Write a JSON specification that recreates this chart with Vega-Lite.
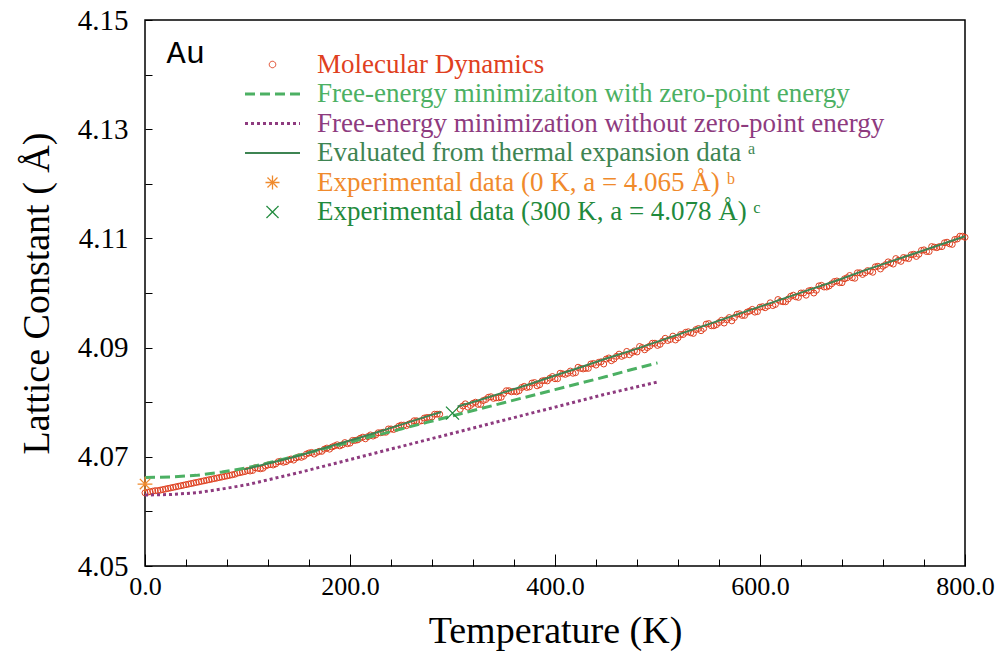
{
  "$schema": "https://vega.github.io/schema/vega-lite/v6.json",
  "width": 820,
  "height": 546,
  "autosize": "none",
  "padding": {"left": 145, "top": 20, "right": 40, "bottom": 88},
  "background": "white",
  "config": {"view": {"stroke": "black", "strokeWidth": 1.5}, "font": "Liberation Serif"},
  "datasets": {
    "md": [
      {"T":0,"a":4.0634},{"T":5,"a":4.0636},{"T":10,"a":4.0638},{"T":15,"a":4.0639},{"T":20,"a":4.0641},{"T":25,"a":4.0643},{"T":30,"a":4.0645},{"T":35,"a":4.0647},{"T":40,"a":4.0649},{"T":45,"a":4.0651},{"T":50,"a":4.0653},{"T":55,"a":4.0655},{"T":60,"a":4.0657},{"T":65,"a":4.0659},{"T":70,"a":4.0661},{"T":75,"a":4.0663},{"T":80,"a":4.0665},{"T":85,"a":4.0667},{"T":90,"a":4.0670},{"T":95,"a":4.0672},
      {"T":2.5,"a":4.0635},{"T":7.5,"a":4.0637},{"T":12.5,"a":4.0638},{"T":17.5,"a":4.0640},{"T":22.5,"a":4.0642},{"T":27.5,"a":4.0644},{"T":32.5,"a":4.0646},{"T":37.5,"a":4.0648},{"T":42.5,"a":4.0650},{"T":47.5,"a":4.0652},{"T":52.5,"a":4.0654},{"T":57.5,"a":4.0656},{"T":62.5,"a":4.0658},{"T":67.5,"a":4.0660},{"T":72.5,"a":4.0662},{"T":77.5,"a":4.0664},{"T":82.5,"a":4.0666},{"T":87.5,"a":4.0668},{"T":92.5,"a":4.0671},{"T":97.5,"a":4.0673},
      {"T":100,"a":4.0675},{"T":105,"a":4.0675},{"T":110,"a":4.0679},{"T":115,"a":4.0679},{"T":120,"a":4.0685},{"T":125,"a":4.0685},{"T":130,"a":4.0691},{"T":135,"a":4.0690},{"T":140,"a":4.0694},{"T":145,"a":4.0694},{"T":150,"a":4.0700},{"T":155,"a":4.0701},{"T":160,"a":4.0707},{"T":165,"a":4.0705},{"T":170,"a":4.0710},{"T":175,"a":4.0714},{"T":180,"a":4.0714},{"T":185,"a":4.0720},{"T":190,"a":4.0720},{"T":195,"a":4.0726},{"T":200,"a":4.0725},{"T":205,"a":4.0730},{"T":210,"a":4.0734},{"T":215,"a":4.0733},{"T":220,"a":4.0740},{"T":225,"a":4.0740},{"T":230,"a":4.0744},{"T":235,"a":4.0745},{"T":240,"a":4.0751},{"T":245,"a":4.0752},{"T":250,"a":4.0758},{"T":255,"a":4.0757},{"T":260,"a":4.0762},{"T":265,"a":4.0766},{"T":270,"a":4.0766},{"T":275,"a":4.0772},{"T":280,"a":4.0773},{"T":285,"a":4.0778},
      {"T":102.5,"a":4.0674},{"T":107.5,"a":4.0680},{"T":112.5,"a":4.0678},{"T":117.5,"a":4.0683},{"T":122.5,"a":4.0686},{"T":127.5,"a":4.0687},{"T":132.5,"a":4.0692},{"T":137.5,"a":4.0691},{"T":142.5,"a":4.0696},{"T":147.5,"a":4.0698},{"T":152.5,"a":4.0699},{"T":157.5,"a":4.0705},{"T":162.5,"a":4.0708},{"T":167.5,"a":4.0708},{"T":172.5,"a":4.0710},{"T":177.5,"a":4.0716},{"T":182.5,"a":4.0718},{"T":187.5,"a":4.0722},{"T":192.5,"a":4.0722},{"T":197.5,"a":4.0724},{"T":202.5,"a":4.0730},{"T":207.5,"a":4.0731},{"T":212.5,"a":4.0736},{"T":217.5,"a":4.0737},{"T":222.5,"a":4.0738},{"T":227.5,"a":4.0744},{"T":232.5,"a":4.0745},{"T":237.5,"a":4.0751},{"T":242.5,"a":4.0750},{"T":247.5,"a":4.0756},{"T":252.5,"a":4.0758},{"T":257.5,"a":4.0760},{"T":262.5,"a":4.0766},{"T":267.5,"a":4.0765},{"T":272.5,"a":4.0771},{"T":277.5,"a":4.0772},{"T":282.5,"a":4.0778},{"T":287.5,"a":4.0778},
      {"T":310,"a":4.0793},{"T":315,"a":4.0791},{"T":320,"a":4.0798},{"T":325,"a":4.0796},{"T":330,"a":4.0803},{"T":335,"a":4.0809},{"T":340,"a":4.0807},{"T":345,"a":4.0808},{"T":350,"a":4.0816},{"T":355,"a":4.0821},{"T":360,"a":4.0820},{"T":365,"a":4.0821},{"T":370,"a":4.0829},{"T":375,"a":4.0828},{"T":380,"a":4.0836},{"T":385,"a":4.0832},{"T":390,"a":4.0840},{"T":395,"a":4.0844},{"T":400,"a":4.0843},{"T":405,"a":4.0853},{"T":410,"a":4.0851},{"T":415,"a":4.0857},{"T":420,"a":4.0854},{"T":425,"a":4.0862},{"T":430,"a":4.0862},{"T":435,"a":4.0870},{"T":440,"a":4.0868},{"T":445,"a":4.0874},{"T":450,"a":4.0879},{"T":455,"a":4.0876},{"T":460,"a":4.0884},{"T":465,"a":4.0884},{"T":470,"a":4.0893},{"T":475,"a":4.0891},{"T":480,"a":4.0892},{"T":485,"a":4.0900},{"T":490,"a":4.0900},{"T":495,"a":4.0908},{"T":500,"a":4.0904},{"T":505,"a":4.0912},{"T":510,"a":4.0913},{"T":515,"a":4.0921},{"T":520,"a":4.0918},{"T":525,"a":4.0924},{"T":530,"a":4.0929},{"T":535,"a":4.0926},{"T":540,"a":4.0935},{"T":545,"a":4.0935},{"T":550,"a":4.0944},{"T":555,"a":4.0940},{"T":560,"a":4.0946},{"T":565,"a":4.0945},{"T":570,"a":4.0955},{"T":575,"a":4.0955},{"T":580,"a":4.0962},{"T":585,"a":4.0959},{"T":590,"a":4.0967},{"T":595,"a":4.0965},{"T":600,"a":4.0974},{"T":605,"a":4.0973},{"T":610,"a":4.0982},{"T":615,"a":4.0979},{"T":620,"a":4.0985},{"T":625,"a":4.0984},{"T":630,"a":4.0994},{"T":635,"a":4.0993},{"T":640,"a":4.1000},{"T":645,"a":4.0996},{"T":650,"a":4.1005},{"T":655,"a":4.1005},{"T":660,"a":4.1014},{"T":665,"a":4.1011},{"T":670,"a":4.1017},{"T":675,"a":4.1022},{"T":680,"a":4.1019},{"T":685,"a":4.1028},{"T":690,"a":4.1028},{"T":695,"a":4.1037},{"T":700,"a":4.1034},{"T":705,"a":4.1041},{"T":710,"a":4.1038},{"T":715,"a":4.1049},{"T":720,"a":4.1049},{"T":725,"a":4.1057},{"T":730,"a":4.1053},{"T":735,"a":4.1060},{"T":740,"a":4.1065},{"T":745,"a":4.1063},{"T":750,"a":4.1071},{"T":755,"a":4.1071},{"T":760,"a":4.1079},{"T":765,"a":4.1076},{"T":770,"a":4.1084},{"T":775,"a":4.1085},{"T":780,"a":4.1092},{"T":785,"a":4.1090},{"T":790,"a":4.1098},{"T":795,"a":4.1104},{"T":800,"a":4.1102},
      {"T":307.5,"a":4.0787},{"T":312.5,"a":4.0797},{"T":317.5,"a":4.0794},{"T":322.5,"a":4.0800},{"T":327.5,"a":4.0796},{"T":332.5,"a":4.0805},{"T":337.5,"a":4.0810},{"T":342.5,"a":4.0808},{"T":347.5,"a":4.0809},{"T":352.5,"a":4.0821},{"T":357.5,"a":4.0819},{"T":362.5,"a":4.0819},{"T":367.5,"a":4.0827},{"T":372.5,"a":4.0827},{"T":377.5,"a":4.0835},{"T":382.5,"a":4.0830},{"T":387.5,"a":4.0839},{"T":392.5,"a":4.0839},{"T":397.5,"a":4.0847},{"T":402.5,"a":4.0843},{"T":407.5,"a":4.0852},{"T":412.5,"a":4.0853},{"T":417.5,"a":4.0853},{"T":422.5,"a":4.0864},{"T":427.5,"a":4.0861},{"T":432.5,"a":4.0862},{"T":437.5,"a":4.0871},{"T":442.5,"a":4.0873},{"T":447.5,"a":4.0870},{"T":452.5,"a":4.0881},{"T":457.5,"a":4.0879},{"T":462.5,"a":4.0888},{"T":467.5,"a":4.0886},{"T":472.5,"a":4.0887},{"T":477.5,"a":4.0894},{"T":482.5,"a":4.0902},{"T":487.5,"a":4.0896},{"T":492.5,"a":4.0903},{"T":497.5,"a":4.0908},{"T":502.5,"a":4.0906},{"T":507.5,"a":4.0917},{"T":512.5,"a":4.0915},{"T":517.5,"a":4.0914},{"T":522.5,"a":4.0924},{"T":527.5,"a":4.0928},{"T":532.5,"a":4.0927},{"T":537.5,"a":4.0933},{"T":542.5,"a":4.0931},{"T":547.5,"a":4.0943},{"T":552.5,"a":4.0940},{"T":557.5,"a":4.0942},{"T":562.5,"a":4.0950},{"T":567.5,"a":4.0951},{"T":572.5,"a":4.0949},{"T":577.5,"a":4.0961},{"T":582.5,"a":4.0959},{"T":587.5,"a":4.0965},{"T":592.5,"a":4.0970},{"T":597.5,"a":4.0966},{"T":602.5,"a":4.0975},{"T":607.5,"a":4.0976},{"T":612.5,"a":4.0977},{"T":617.5,"a":4.0988},{"T":622.5,"a":4.0984},{"T":627.5,"a":4.0989},{"T":632.5,"a":4.0996},{"T":637.5,"a":4.0992},{"T":642.5,"a":4.1000},{"T":647.5,"a":4.1004},{"T":652.5,"a":4.1000},{"T":657.5,"a":4.1013},{"T":662.5,"a":4.1011},{"T":667.5,"a":4.1013},{"T":672.5,"a":4.1021},{"T":677.5,"a":4.1019},{"T":682.5,"a":4.1026},{"T":687.5,"a":4.1032},{"T":692.5,"a":4.1027},{"T":697.5,"a":4.1037},{"T":702.5,"a":4.1037},{"T":707.5,"a":4.1040},{"T":712.5,"a":4.1048},{"T":717.5,"a":4.1044},{"T":722.5,"a":4.1052},{"T":727.5,"a":4.1055},{"T":732.5,"a":4.1063},{"T":737.5,"a":4.1058},{"T":742.5,"a":4.1064},{"T":747.5,"a":4.1070},{"T":752.5,"a":4.1067},{"T":757.5,"a":4.1078},{"T":762.5,"a":4.1076},{"T":767.5,"a":4.1085},{"T":772.5,"a":4.1083},{"T":777.5,"a":4.1085},{"T":782.5,"a":4.1093},{"T":787.5,"a":4.1089},{"T":792.5,"a":4.1099},{"T":797.5,"a":4.1104}
    ],
    "zpe": [
      {"T":0,"a":4.0662},{"T":25,"a":4.0663},{"T":50,"a":4.0666},{"T":75,"a":4.0672},{"T":100,"a":4.0680},{"T":125,"a":4.0691},{"T":150,"a":4.0703},{"T":175,"a":4.0715},{"T":200,"a":4.0727},{"T":225,"a":4.0739},{"T":250,"a":4.0751},{"T":275,"a":4.0763},{"T":300,"a":4.0775},{"T":325,"a":4.0787},{"T":350,"a":4.0799},{"T":375,"a":4.0811},{"T":400,"a":4.0823},{"T":425,"a":4.0835},{"T":450,"a":4.0847},{"T":475,"a":4.0860},{"T":500,"a":4.0872}
    ],
    "nozpe": [
      {"T":0,"a":4.0630},{"T":25,"a":4.0631},{"T":50,"a":4.0634},{"T":75,"a":4.0641},{"T":100,"a":4.0649},{"T":125,"a":4.0660},{"T":150,"a":4.0671},{"T":175,"a":4.0683},{"T":200,"a":4.0695},{"T":225,"a":4.0707},{"T":250,"a":4.0719},{"T":275,"a":4.0731},{"T":300,"a":4.0743},{"T":325,"a":4.0755},{"T":350,"a":4.0767},{"T":375,"a":4.0779},{"T":400,"a":4.0791},{"T":425,"a":4.0803},{"T":450,"a":4.0815},{"T":475,"a":4.0826},{"T":500,"a":4.0837}
    ],
    "thermal": [
      {"T":97,"a":4.0677,"seg":1},{"T":125,"a":4.0690,"seg":1},{"T":150,"a":4.0702,"seg":1},{"T":175,"a":4.0716,"seg":1},{"T":200,"a":4.0730,"seg":1},{"T":225,"a":4.0744,"seg":1},{"T":250,"a":4.0759,"seg":1},{"T":275,"a":4.0774,"seg":1},{"T":289,"a":4.0782,"seg":1},
      {"T":305,"a":4.0792,"seg":2},{"T":325,"a":4.0803,"seg":2},{"T":350,"a":4.0818,"seg":2},{"T":375,"a":4.0833,"seg":2},{"T":400,"a":4.0849,"seg":2},{"T":425,"a":4.0864,"seg":2},{"T":450,"a":4.0880,"seg":2},{"T":475,"a":4.0895,"seg":2},{"T":500,"a":4.0911,"seg":2},{"T":525,"a":4.0927,"seg":2},{"T":550,"a":4.0943,"seg":2},{"T":575,"a":4.0959,"seg":2},{"T":600,"a":4.0975,"seg":2},{"T":625,"a":4.0991,"seg":2},{"T":650,"a":4.1007,"seg":2},{"T":675,"a":4.1023,"seg":2},{"T":700,"a":4.1040,"seg":2},{"T":725,"a":4.1056,"seg":2},{"T":750,"a":4.1072,"seg":2},{"T":775,"a":4.1088,"seg":2},{"T":800,"a":4.1104,"seg":2}
    ],
    "exp0": [{"T":0,"a":4.065}],
    "exp300": [{"T":300,"a":4.078}],
    "label": [{"text":"Au"}]
  },
  "layer": [
    {
      "data": {"name": "md"},
      "mark": {"type": "point", "shape": "circle", "filled": false, "size": 36, "strokeWidth": 1, "opacity": 1},
      "encoding": {
        "x": {"field": "T", "type": "quantitative",
          "scale": {"domain": [0, 800], "nice": false, "zero": false},
          "axis": {"title": "Temperature (K)",
            "values": [0,40,80,120,160,200,240,280,320,360,400,440,480,520,560,600,640,680,720,760,800],
            "labelExpr": "datum.value % 200 === 0 ? format(datum.value, '.1f') : ''",
            "tickSize": {"condition": {"test": "datum.value % 200 === 0", "value": -12}, "value": -7},
            "tickColor": "black", "tickWidth": 1, "domain": false, "grid": false,
            "labelFont": "Liberation Serif", "labelFontSize": 26, "labelColor": "black",
            "labelPadding": 19, "labelFlush": false, "labelOverlap": false,
            "titleFont": "Liberation Serif", "titleFontSize": 38, "titleFontWeight": "normal", "titleColor": "black", "titlePadding": 8}},
        "y": {"field": "a", "type": "quantitative",
          "scale": {"domain": [4.05, 4.15], "nice": false, "zero": false},
          "axis": {"title": "Lattice Constant ( Å)",
            "values": [4.05,4.06,4.07,4.08,4.09,4.1,4.11,4.12,4.13,4.14,4.15],
            "labelExpr": "round(datum.value*100) % 2 === 1 ? format(datum.value, '.2f') : ''",
            "tickSize": -7, "tickColor": "black", "tickWidth": 1, "domain": false, "grid": false,
            "labelFont": "Liberation Serif", "labelFontSize": 29, "labelColor": "black",
            "labelPadding": 24, "labelOverlap": false, "labelFlush": false,
            "titleFont": "Liberation Serif", "titleFontSize": 38, "titleFontWeight": "normal", "titleColor": "black", "titlePadding": 21}},
        "color": {"datum": "md", "type": "nominal",
          "scale": {"domain": ["md","zpe","nozpe","thermal","exp0","exp300"],
                    "range": ["#df4020","#4cb063","#8e3b7f","#3e8452","#f08a2c","#1f8a3c"]},
          "legend": {
            "title": null, "orient": "none", "legendX": 114, "legendY": 31, "padding": 0,
            "labelExpr": "datum.value == 'md' ? 'Molecular Dynamics' : datum.value == 'zpe' ? 'Free-energy minimizaiton with zero-point energy' : datum.value == 'nozpe' ? 'Free-energy minimization without zero-point energy' : datum.value == 'thermal' ? 'Evaluated from thermal expansion data ᵃ' : datum.value == 'exp0' ? 'Experimental data (0 K, a = 4.065 Å) ᵇ' : 'Experimental data (300 K, a = 4.078 Å) ᶜ'",
            "labelFont": "Liberation Serif", "labelFontSize": 27, "labelLimit": 900,
            "labelColor": {"expr": "scale('color', datum.value)"},
            "symbolSize": 100, "labelOffset": 31, "rowPadding": 1.5,
            "symbolType": {"expr": "datum.value == 'md' ? 'M0.65,0A0.65,0.65,0,1,1,-0.65,0A0.65,0.65,0,1,1,0.65,0Z' : datum.value == 'exp0' ? 'M-1.4,0L1.4,0M0,-1.4L0,1.4M-1,-1L1,1M-1,1L1,-1' : datum.value == 'exp300' ? 'M-1.2,-1.2L1.2,1.2M-1.2,1.2L1.2,-1.2' : 'M-5.5,0L5.5,0'"},
            "symbolDash": {"expr": "datum.value == 'zpe' ? [10,5] : datum.value == 'nozpe' ? [3,3] : [1,0]"},
            "symbolStrokeWidth": {"expr": "datum.value == 'md' ? 1 : datum.value == 'thermal' ? 2 : (datum.value == 'exp0' || datum.value == 'exp300') ? 1.3 : 3"},
            "symbolStrokeColor": {"expr": "scale('color', datum.value)"},
            "symbolFillColor": "transparent"
          }
        }
      }
    },
    {
      "data": {"name": "nozpe"},
      "mark": {"type": "line", "strokeDash": [3, 3], "strokeWidth": 3},
      "encoding": {
        "x": {"field": "T", "type": "quantitative"},
        "y": {"field": "a", "type": "quantitative"},
        "color": {"datum": "nozpe", "type": "nominal"}
      }
    },
    {
      "data": {"name": "zpe"},
      "mark": {"type": "line", "strokeDash": [10, 5], "strokeWidth": 3},
      "encoding": {
        "x": {"field": "T", "type": "quantitative"},
        "y": {"field": "a", "type": "quantitative"},
        "color": {"datum": "zpe", "type": "nominal"}
      }
    },
    {
      "data": {"name": "thermal"},
      "mark": {"type": "line", "strokeWidth": 2},
      "encoding": {
        "x": {"field": "T", "type": "quantitative"},
        "y": {"field": "a", "type": "quantitative"},
        "detail": {"field": "seg", "type": "nominal"},
        "color": {"datum": "thermal", "type": "nominal"}
      }
    },
    {
      "data": {"name": "exp0"},
      "mark": {"type": "point", "shape": "M-1,0L1,0M0,-1L0,1M-0.7,-0.7L0.7,0.7M-0.7,0.7L0.7,-0.7", "filled": false, "size": 220, "strokeWidth": 1.3, "opacity": 1},
      "encoding": {
        "x": {"field": "T", "type": "quantitative"},
        "y": {"field": "a", "type": "quantitative"},
        "color": {"datum": "exp0", "type": "nominal"}
      }
    },
    {
      "data": {"name": "exp300"},
      "mark": {"type": "point", "shape": "M-1,-1L1,1M-1,1L1,-1", "filled": false, "size": 170, "strokeWidth": 1.3, "opacity": 1},
      "encoding": {
        "x": {"field": "T", "type": "quantitative"},
        "y": {"field": "a", "type": "quantitative"},
        "color": {"datum": "exp300", "type": "nominal"}
      }
    },
    {
      "data": {"name": "label"},
      "mark": {"type": "text", "font": "Liberation Mono", "fontSize": 32, "align": "left", "baseline": "alphabetic", "color": "black"},
      "encoding": {
        "x": {"datum": 21, "type": "quantitative"},
        "y": {"datum": 4.1421, "type": "quantitative"},
        "text": {"field": "text"}
      }
    }
  ]
}
